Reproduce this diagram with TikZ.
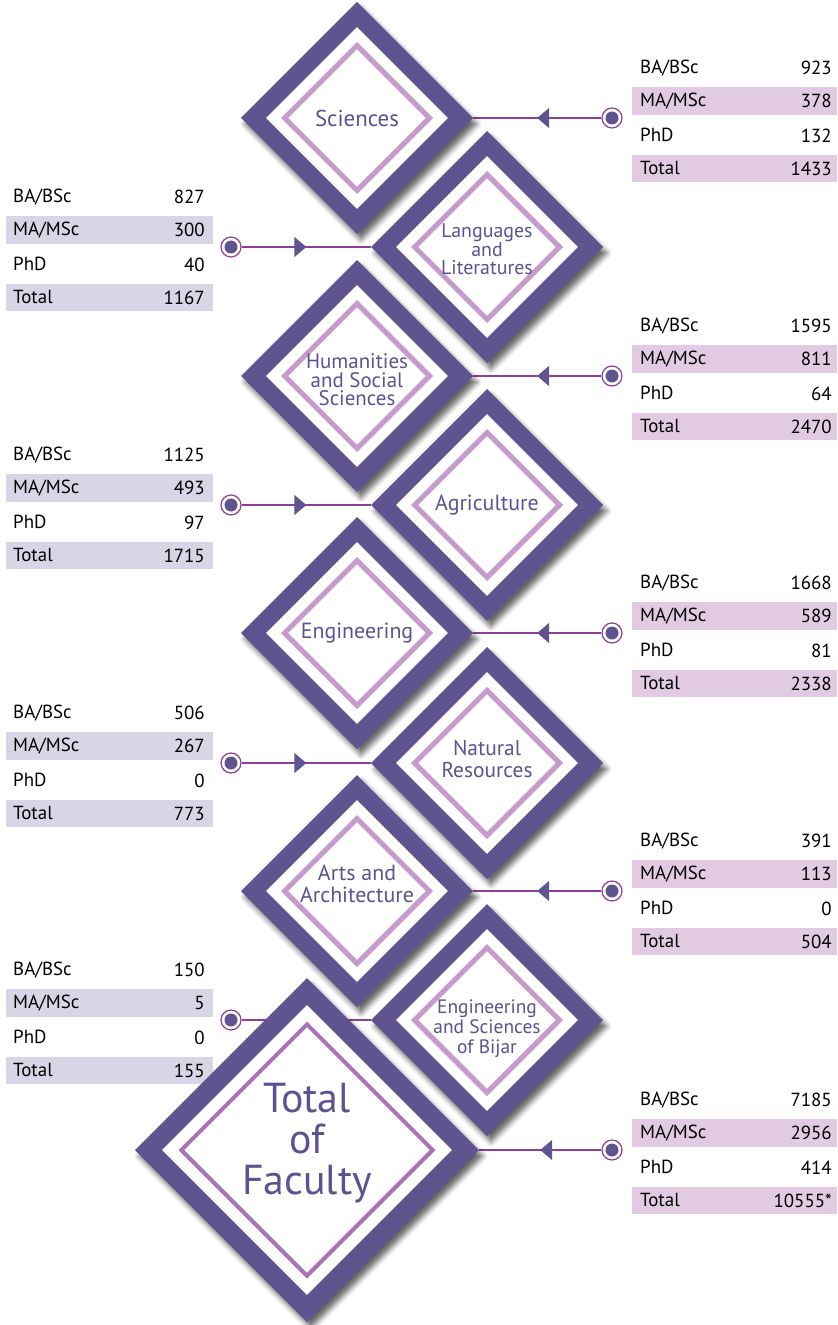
\documentclass[tikz,border=0pt]{standalone}
\usepackage{fontspec}
\setmainfont{PT Sans}
\usetikzlibrary{shapes.geometric, shadows.blur, arrows.meta, decorations.markings, backgrounds}
\definecolor{facdark}{HTML}{605490}
\definecolor{facline}{HTML}{C49BCB}
\definecolor{totline}{HTML}{A872B4}
\definecolor{factext}{HTML}{5E5192}
\definecolor{connline}{HTML}{8E3E98}
\definecolor{leftband}{HTML}{D8D5E6}
\definecolor{rightband}{HTML}{E2CBE2}
\tikzset{
bigdia/.style={diamond, aspect=1, fill=facdark, inner sep=0, outer sep=0,
  minimum width=232bp, minimum height=232bp,
  blur shadow={shadow xshift=4bp, shadow yshift=-6bp, shadow blur radius=5bp, shadow opacity=60}}, % dark outer band
whitedia/.style={diamond, aspect=1, fill=white, inner sep=0, minimum width=182bp, minimum height=182bp},
framedia/.style={diamond, aspect=1, draw=facline, line width=5bp, inner sep=0, minimum width=147bp, minimum height=147bp},
facname/.style={text=factext, align=center, inner sep=0},
rowlab/.style={anchor=west, inner sep=0, text=black, font=\fontsize{19}{21}\selectfont},
rownum/.style={rowlab, anchor=east},
endpt/.style={circle, draw=connline, line width=1.2bp, fill=white, minimum size=20bp, inner sep=0,
  path picture={\fill[facdark] (path picture bounding box.center) circle (6.5bp);}},
conn/.style={draw=connline, line width=1.6bp, postaction={decorate},
  decoration={markings, mark=at position #1 with {\arrow[facdark]{Triangle[length=12bp, width=20bp]}}}},
conn/.default=.5,
}

\begin{document}
\begin{tikzpicture}[x=1bp,y=-1bp]
\useasboundingbox (0,0) rectangle (837,1325);

% the faculties
\foreach \n/\x/\y/\fs/\ld/\dy/\lbl in {
  sci/357/118/23/24/0/Sciences,
  lang/487/247/20/18/2/Languages\\and\\Literatures,
  hum/357/376/21/18.5/4/Humanities\\and Social\\Sciences,
  agri/487/505/22/24/0/Agriculture,
  eng/357/633/22/24/0/Engineering,
  natres/487/763/21.5/22/-4/Natural\\Resources,
  arts/357/891/22/22/-7/Arts and\\Architecture,
  bijar/487/1020/19.5/20/9/Engineering\\and Sciences\\of Bijar}
{
  \node[bigdia] (\n) at (\x,\y) {};
  \node[whitedia] (\n-in) at (\n) {};
  \node[framedia] (\n-frame) at (\n) {};
  \node[facname, font=\fontsize{\fs}{\ld}\selectfont] (\n-name) at (\x,\y+\dy) {\lbl};
}

% the total
\node[bigdia, minimum width=344bp, minimum height=344bp] (total) at (307,1150) {};
\node[whitedia, minimum width=290bp, minimum height=290bp] (total-in) at (total) {};
\node[framedia, draw=totline, line width=4bp, minimum width=253bp, minimum height=253bp] (total-frame) at (total) {};
\node[facname, font=\fontsize{42}{41}\selectfont] (total-name) at (307,1143) {Total\\of\\Faculty};

\begin{pgfonlayer}{background}
% tables on the left
\foreach \y/\d/\ba/\ma/\phd/\tot in {247/lang/827/300/40/1167, 505/agri/1125/493/97/1715,
  763/natres/506/267/0/773, 1020/bijar/150/5/0/155}
{
  \fill[leftband] (6,\y-31) rectangle (213,\y-3);
  \fill[leftband] (6,\y+37) rectangle (213,\y+64);
  \node[rowlab] (l\y-ba) at (13,\y-50) {BA/BSc};
  \node[rownum] (l\y-ban) at (205,\y-50) {\ba};
  \node[rowlab] (l\y-ma) at (13,\y-17) {MA/MSc};
  \node[rownum] (l\y-man) at (205,\y-17) {\ma};
  \node[rowlab] (l\y-phd) at (13,\y+17) {PhD};
  \node[rownum] (l\y-phdn) at (205,\y+18) {\phd};
  \node[rowlab] (l\y-tot) at (13,\y+50) {Total};
  \node[rownum] (l\y-totn) at (205,\y+51) {\tot};
  \node[endpt] (l\y-dot) at (231,\y) {};
  \draw[conn] (l\y-dot) -- (\d.west);
}
% tables on the right
\foreach \y/\d/\ba/\ma/\phd/\tot in {118/sci/923/378/132/1433, 376/hum/1595/811/64/2470,
  633/eng/1668/589/81/2338, 891/arts/391/113/0/504, 1150/total/7185/2956/414/10555*}
{
  \fill[rightband] (632,\y-31) rectangle (837,\y-3);
  \fill[rightband] (632,\y+37) rectangle (837,\y+64);
  \node[rowlab] (r\y-ba) at (640,\y-50) {BA/BSc};
  \node[rownum] (r\y-ban) at (832,\y-50) {\ba};
  \node[rowlab] (r\y-ma) at (640,\y-17) {MA/MSc};
  \node[rownum] (r\y-man) at (832,\y-17) {\ma};
  \node[rowlab] (r\y-phd) at (640,\y+17) {PhD};
  \node[rownum] (r\y-phdn) at (832,\y+18) {\phd};
  \node[rowlab] (r\y-tot) at (640,\y+50) {Total};
  \node[rownum] (r\y-totn) at (832,\y+51) {\tot};
  \node[endpt] (r\y-dot) at (612,\y) {};
  \draw[conn] (r\y-dot) -- (\d.east);
}
\end{pgfonlayer}
\end{tikzpicture}
\end{document}
